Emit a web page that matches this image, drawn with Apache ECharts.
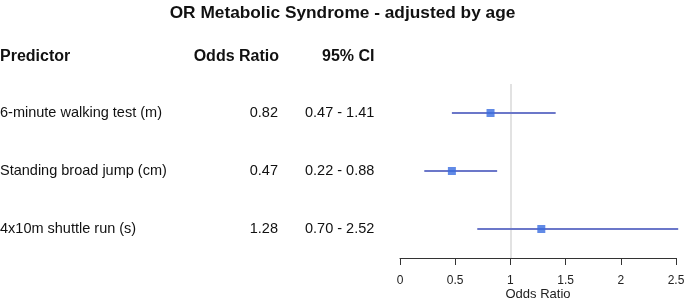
<!DOCTYPE html>
<html>
<head>
<meta charset="utf-8">
<script src="https://cdn.jsdelivr.net/npm/echarts@6/dist/echarts.min.js"></script>
<style>
  html, body { margin: 0; padding: 0; background: #fff; }
  #main { width: 685px; height: 300px; }
</style>
</head>
<body>
<div id="main"></div>
<script>
    // data
    var predictors = ['6-minute walking test (m)', 'Standing broad jump (cm)', '4x10m shuttle run (s)'];
    var oddsRatio = [0.82, 0.47, 1.28];
    var ciLow = [0.47, 0.22, 0.70];
    var ciHigh = [1.41, 0.88, 2.52];
    var xTicks = [0, 0.5, 1, 1.5, 2, 2.5];
    var headers = ['Predictor', 'Odds Ratio', '95% CI'];

    var myChart = echarts.init(document.getElementById('main'));
    var font = 'Liberation Sans, Arial, sans-serif';

    function draw() {
        var orLabels = oddsRatio.map(function (v) { return v.toFixed(2); });
        var ciLabels = ciLow.map(function (v, i) { return v.toFixed(2) + ' - ' + ciHigh[i].toFixed(2); });
        var points = oddsRatio.map(function (v, i) { return [v, i]; });
        var whiskers = ciLow.map(function (v, i) { return [v, ciHigh[i], i]; });

        // the three "table" columns are category axes shifted to the left
        function tableAxis(data, offset, inside) {
            return {
                type: 'category',
                data: data,
                inverse: true,
                position: 'left',
                offset: offset,
                axisLine: { show: false },
                axisTick: { show: false },
                splitLine: { show: false },
                axisLabel: {
                    inside: inside,
                    margin: 0,
                    color: '#111',
                    fontFamily: font,
                    fontSize: 14.5
                }
            };
        }

        function header(text, pos) {
            var t = {
                text: text,
                top: 49,
                textStyle: { fontFamily: font, fontSize: 16, fontWeight: 'bold', color: '#111' },
                padding: 0
            };
            return Object.assign(t, pos);
        }

        var option = {
            animation: false,
            title: [
                {
                    text: 'OR Metabolic Syndrome - adjusted by age',
                    left: 'center',
                    top: 5,
                    padding: 0,
                    textStyle: { fontFamily: font, fontSize: 17.3, fontWeight: 'bold', color: '#111' }
                },
                header(headers[0], { left: 0 }),
                header(headers[1], { right: 685 - 279 }),
                header(headers[2], { left: 322 })
            ],
            grid: { left: 400, right: 9, top: 84, bottom: 42, outerBoundsMode: 'none' },
            xAxis: {
                type: 'value',
                min: xTicks[0],
                max: xTicks[xTicks.length - 1],
                interval: 0.5,
                splitLine: { show: false },
                axisLine: { show: true, lineStyle: { color: '#333', width: 1 } },
                axisTick: { show: true, length: 7, lineStyle: { color: '#333' } },
                axisLabel: { margin: 16.5, color: '#222', fontFamily: font, fontSize: 12 },
                name: 'Odds Ratio',
                nameLocation: 'middle',
                nameGap: 30,
                nameMoveOverlap: false,
                nameTextStyle: { color: '#222', fontFamily: font, fontSize: 13 }
            },
            yAxis: [
                tableAxis(predictors, 400, true),
                tableAxis(orLabels, 122, false),
                tableAxis(ciLabels, 95, true)
            ],
            series: [
                {
                    name: 'CI',
                    type: 'custom',
                    yAxisIndex: 0,
                    data: whiskers,
                    encode: { x: [0, 1], y: 2 },
                    renderItem: function (params, api) {
                        var y = api.value(2);
                        var p1 = api.coord([api.value(0), y]);
                        var p2 = api.coord([api.value(1), y]);
                        return {
                            type: 'line',
                            shape: { x1: p1[0], y1: p1[1], x2: p2[0], y2: p2[1] },
                            style: { stroke: '#6b77c9', lineWidth: 2 }
                        };
                    },
                    z: 3
                },
                {
                    name: 'OR',
                    type: 'scatter',
                    yAxisIndex: 0,
                    symbol: 'rect',
                    symbolSize: 8,
                    itemStyle: { color: '#3a6de0' },
                    data: points,
                    z: 4,
                    markLine: {
                        silent: true,
                        symbol: 'none',
                        label: { show: false },
                        lineStyle: { color: '#d8d8d8', width: 1.5, type: 'solid' },
                        data: [{ xAxis: 1 }],
                        z: 1
                    }
                }
            ]
        };

        myChart.setOption(option);
    }

    draw();
</script>
</body>
</html>
